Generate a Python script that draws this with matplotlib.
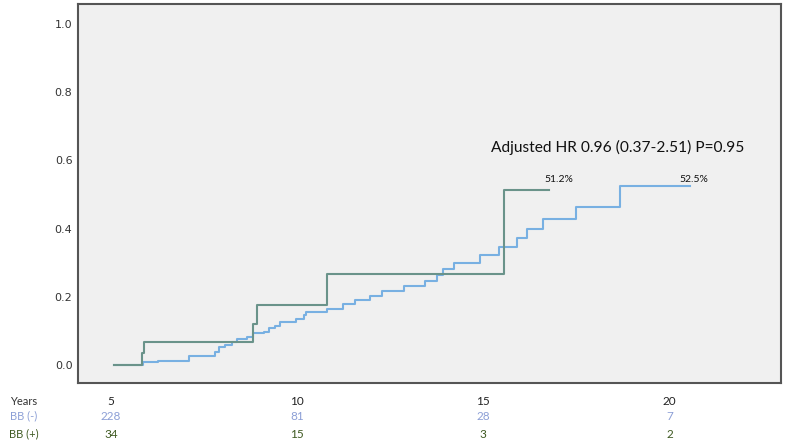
import matplotlib
matplotlib.use("Agg")
import matplotlib.pyplot as plt
import matplotlib.transforms as mtransforms

# cumulative incidence, BB (-) group
bb_neg_t = [5.08, 5.85, 6.27, 7.08, 7.80, 7.89, 8.06, 8.24, 8.38, 8.65, 8.81, 9.10,
            9.23, 9.41, 9.54, 9.97, 10.17, 10.24, 10.80, 11.24, 11.56, 11.96, 12.29,
            12.86, 13.44, 13.76, 13.93, 14.22, 14.90, 15.41, 15.91, 16.17, 16.60,
            17.49, 18.68, 20.56]
bb_neg_y = [0.0, 0.008, 0.013, 0.026, 0.039, 0.052, 0.059, 0.067, 0.076, 0.083, 0.093,
            0.098, 0.108, 0.114, 0.127, 0.134, 0.147, 0.156, 0.165, 0.179, 0.191,
            0.203, 0.217, 0.232, 0.247, 0.264, 0.281, 0.300, 0.322, 0.345, 0.372,
            0.400, 0.428, 0.464, 0.525, 0.525]

# cumulative incidence, BB (+) group
bb_pos_t = [5.08, 5.84, 5.87, 8.80, 8.92, 10.81, 15.55, 16.76]
bb_pos_y = [0.0, 0.035, 0.068, 0.12, 0.175, 0.268, 0.512, 0.512]

years = [5, 10, 15, 20]
risk_neg = [228, 81, 28, 7]
risk_pos = [34, 15, 3, 2]

blue = "#78b0e2"
green = "#6a938a"
neg_txt = "#8c9fd6"
pos_txt = "#3f5a22"

plt.rcParams["font.family"] = ["Lato", "DejaVu Sans"]

fig = plt.figure(figsize=(7.89, 4.48), dpi=100)
ax = fig.add_axes([0.0989, 0.145, 0.891, 0.846])
ax.set_facecolor("#f0f0f0")

ax.step(bb_neg_t, bb_neg_y, where="post", color=blue, lw=1.5)
ax.step(bb_pos_t, bb_pos_y, where="post", color=green, lw=1.5)

ax.set_xlim(4.11, 23.0)
ax.set_ylim(-0.053, 1.059)
ax.set_yticks([0.0, 0.2, 0.4, 0.6, 0.8, 1.0])
ax.set_yticklabels(["0.0", "0.2", "0.4", "0.6", "0.8", "1.0"], fontsize=8,
                   color="#333333", family="DejaVu Sans")
ax.set_xticks(years)
ax.set_xticklabels([str(y) for y in years], fontsize=8.5, color="#222222")
ax.tick_params(axis="y", length=0, pad=4)
ax.tick_params(axis="x", length=0, pad=9)
for s in ax.spines.values():
    s.set_color("#555555")
    s.set_linewidth(1.5)

ax.text(0.587, 0.621, "Adjusted HR 0.96 (0.37-2.51) P=0.95", transform=ax.transAxes,
        fontsize=11.2, color="#111111", ha="left", va="center")
ax.text(bb_pos_t[-1] + 0.28, bb_pos_y[-1] + 0.033, "51.2%", fontsize=7.5,
        color="#111111", ha="center", va="center")
ax.text(bb_neg_t[-1] + 0.09, bb_neg_y[-1] + 0.018, "52.5%", fontsize=7.5,
        color="#111111", ha="center", va="center")

# numbers at risk
trans = mtransforms.blended_transform_factory(ax.transData, ax.transAxes)
for x, n1, n2 in zip(years, risk_neg, risk_pos):
    ax.text(x, -0.087, str(n1), transform=trans, ha="center", va="center",
            fontsize=8.5, color=neg_txt)
    ax.text(x, -0.135, str(n2), transform=trans, ha="center", va="center",
            fontsize=8.5, color=pos_txt)

fig.text(24 / 789, 1 - 401 / 448, "Years", ha="center", va="center", fontsize=8,
         color="#333333")
fig.text(24 / 789, 1 - 416 / 448, "BB (-)", ha="center", va="center", fontsize=8,
         color=neg_txt)
fig.text(24 / 789, 1 - 434 / 448, "BB (+)", ha="center", va="center", fontsize=8,
         color=pos_txt)

fig.savefig("out.png", dpi=100)
